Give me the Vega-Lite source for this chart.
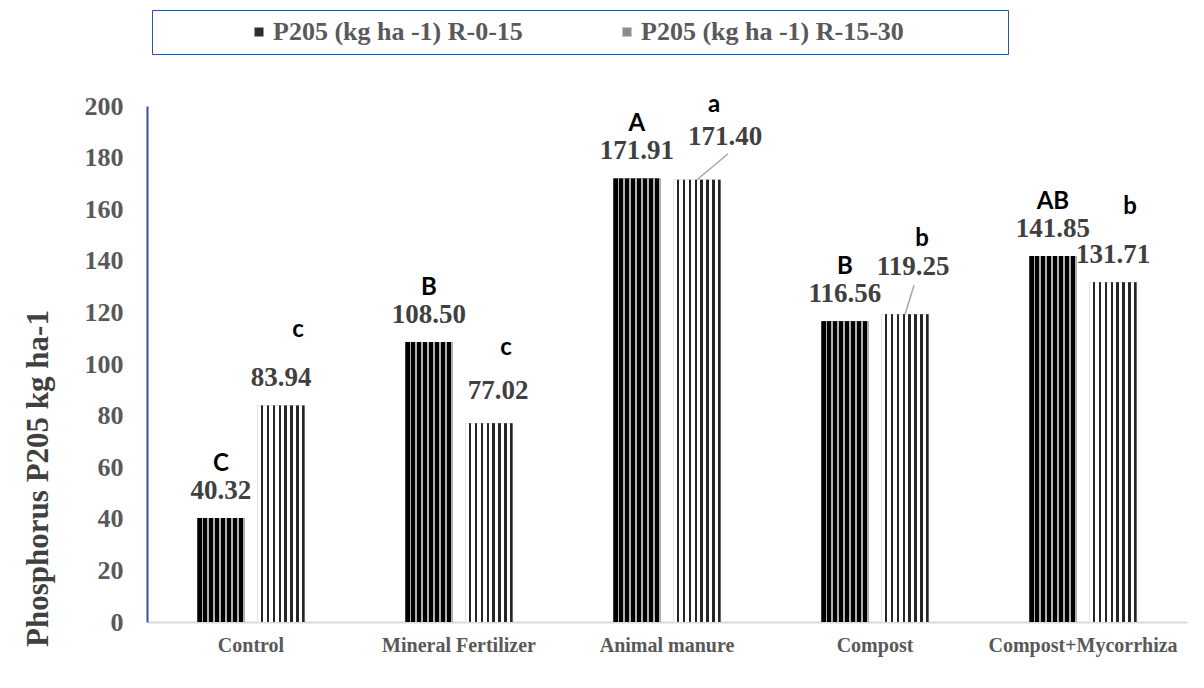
{
  "$schema": "https://vega.github.io/schema/vega-lite/v6.json",
  "width": 1040,
  "height": 516,
  "autosize": {"type": "none"},
  "padding": {"left": 147, "top": 106, "right": 17, "bottom": 66},
  "background": "white",
  "config": {"view": {"stroke": null}},
  "data": {
    "values": [
      {"treatment": "Control", "depth": "P205 (kg ha -1) R-0-15", "value": 40.32, "label": "40.32", "letter": "C"},
      {"treatment": "Control", "depth": "P205 (kg ha -1) R-15-30", "value": 83.94, "label": "83.94", "letter": "c"},
      {"treatment": "Mineral Fertilizer", "depth": "P205 (kg ha -1) R-0-15", "value": 108.50, "label": "108.50", "letter": "B"},
      {"treatment": "Mineral Fertilizer", "depth": "P205 (kg ha -1) R-15-30", "value": 77.02, "label": "77.02", "letter": "c"},
      {"treatment": "Animal manure", "depth": "P205 (kg ha -1) R-0-15", "value": 171.91, "label": "171.91", "letter": "A"},
      {"treatment": "Animal manure", "depth": "P205 (kg ha -1) R-15-30", "value": 171.40, "label": "171.40", "letter": "a"},
      {"treatment": "Compost", "depth": "P205 (kg ha -1) R-0-15", "value": 116.56, "label": "116.56", "letter": "B"},
      {"treatment": "Compost", "depth": "P205 (kg ha -1) R-15-30", "value": 119.25, "label": "119.25", "letter": "b"},
      {"treatment": "Compost+Mycorrhiza", "depth": "P205 (kg ha -1) R-0-15", "value": 141.85, "label": "141.85", "letter": "AB"},
      {"treatment": "Compost+Mycorrhiza", "depth": "P205 (kg ha -1) R-15-30", "value": 131.71, "label": "131.71", "letter": "b"}
    ]
  },
  "encoding": {
    "x": {
      "field": "treatment", "type": "nominal", "sort": null,
      "scale": {"paddingInner": 0.485, "paddingOuter": 0.2425},
      "axis": {
        "title": null, "labelAngle": 0, "ticks": false, "domainColor": "#d9d9d9", "domainWidth": 2,
        "labelFont": "Liberation Serif", "labelFontWeight": "bold", "labelFontSize": 20, "labelColor": "#595959",
        "labelPadding": 13, "labelLimit": 0
      }
    },
    "xOffset": {"field": "depth", "type": "nominal", "scale": {"paddingInner": 0.22, "paddingOuter": 0}},
    "y": {
      "field": "value", "type": "quantitative",
      "scale": {"domain": [0, 200], "nice": false},
      "axis": {
        "title": "Phosphorus P205 kg ha-1", "values": [0, 20, 40, 60, 80, 100, 120, 140, 160, 180, 200],
        "grid": false, "ticks": false, "domainColor": "#2f5597", "domainWidth": 2,
        "labelFont": "Liberation Serif", "labelFontWeight": "bold", "labelFontSize": 26, "labelColor": "#595959",
        "labelPadding": 24,
        "titleFont": "Liberation Serif", "titleFontWeight": "bold", "titleFontSize": 31, "titleColor": "#404040",
        "titleX": -109, "titleY": 372, "titleBaseline": "middle", "titleAlign": "center", "titleAngle": -90
      }
    }
  },
  "layer": [
    {
      "mark": {"type": "bar"},
      "encoding": {
        "color": {
          "field": "depth", "type": "nominal",
          "scale": {
            "domain": ["P205 (kg ha -1) R-0-15", "P205 (kg ha -1) R-15-30"],
            "range": ["#2e2e2e", "#8c8c8c"]
          },
          "legend": {
            "title": null, "orient": "none", "legendX": 5, "legendY": -96, "direction": "horizontal",
            "strokeColor": "#2f5597", "padding": 9,
            "symbolType": "square", "symbolSize": 81, "symbolStrokeWidth": 0, "symbolOffset": 85,
            "labelFont": "Liberation Serif", "labelFontWeight": "bold", "labelFontSize": 26, "labelColor": "#595959",
            "labelOffset": 1, "labelLimit": 0, "columnPadding": 6,
            "labelExpr": "datum.value == 'P205 (kg ha -1) R-15-30' ? datum.label + '\u2800\u2800\u2800\u2800\u2800' : datum.label"
          }
        }
      }
    },
    {
      "transform": [{"filter": "datum.depth == 'P205 (kg ha -1) R-0-15'"}],
      "mark": {"type": "bar", "fill": {"gradient": "linear", "x1": 0, "y1": 0, "x2": 1, "y2": 0, "stops": [
                {"offset": 0, "color": "#000000"}, {"offset": 0.0875, "color": "#000000"}, {"offset": 0.0875, "color": "#b0b0b0"}, {"offset": 0.125, "color": "#b0b0b0"},
                {"offset": 0.125, "color": "#000000"}, {"offset": 0.2125, "color": "#000000"}, {"offset": 0.2125, "color": "#b0b0b0"}, {"offset": 0.25, "color": "#b0b0b0"},
                {"offset": 0.25, "color": "#000000"}, {"offset": 0.3375, "color": "#000000"}, {"offset": 0.3375, "color": "#b0b0b0"}, {"offset": 0.375, "color": "#b0b0b0"},
                {"offset": 0.375, "color": "#000000"}, {"offset": 0.4625, "color": "#000000"}, {"offset": 0.4625, "color": "#b0b0b0"}, {"offset": 0.5, "color": "#b0b0b0"},
                {"offset": 0.5, "color": "#000000"}, {"offset": 0.5875, "color": "#000000"}, {"offset": 0.5875, "color": "#b0b0b0"}, {"offset": 0.625, "color": "#b0b0b0"},
                {"offset": 0.625, "color": "#000000"}, {"offset": 0.7125, "color": "#000000"}, {"offset": 0.7125, "color": "#b0b0b0"}, {"offset": 0.75, "color": "#b0b0b0"},
                {"offset": 0.75, "color": "#000000"}, {"offset": 0.8375, "color": "#000000"}, {"offset": 0.8375, "color": "#b0b0b0"}, {"offset": 0.875, "color": "#b0b0b0"},
                {"offset": 0.875, "color": "#000000"}, {"offset": 0.9625, "color": "#000000"}, {"offset": 0.9625, "color": "#b0b0b0"}, {"offset": 1, "color": "#b0b0b0"}
              ]}},
      "encoding": {}
    },
    {
      "transform": [{"filter": "datum.depth == 'P205 (kg ha -1) R-15-30'"}],
      "mark": {"type": "bar", "fill": {"gradient": "linear", "x1": 0, "y1": 0, "x2": 1, "y2": 0, "stops": [
                {"offset": 0, "color": "#ffffff"}, {"offset": 0.07, "color": "#ffffff"}, {"offset": 0.07, "color": "#262626"}, {"offset": 0.125, "color": "#262626"},
                {"offset": 0.125, "color": "#ffffff"}, {"offset": 0.195, "color": "#ffffff"}, {"offset": 0.195, "color": "#262626"}, {"offset": 0.25, "color": "#262626"},
                {"offset": 0.25, "color": "#ffffff"}, {"offset": 0.32, "color": "#ffffff"}, {"offset": 0.32, "color": "#262626"}, {"offset": 0.375, "color": "#262626"},
                {"offset": 0.375, "color": "#ffffff"}, {"offset": 0.445, "color": "#ffffff"}, {"offset": 0.445, "color": "#262626"}, {"offset": 0.5, "color": "#262626"},
                {"offset": 0.5, "color": "#ffffff"}, {"offset": 0.57, "color": "#ffffff"}, {"offset": 0.57, "color": "#262626"}, {"offset": 0.625, "color": "#262626"},
                {"offset": 0.625, "color": "#ffffff"}, {"offset": 0.695, "color": "#ffffff"}, {"offset": 0.695, "color": "#262626"}, {"offset": 0.75, "color": "#262626"},
                {"offset": 0.75, "color": "#ffffff"}, {"offset": 0.82, "color": "#ffffff"}, {"offset": 0.82, "color": "#262626"}, {"offset": 0.875, "color": "#262626"},
                {"offset": 0.875, "color": "#ffffff"}, {"offset": 0.945, "color": "#ffffff"}, {"offset": 0.945, "color": "#262626"}, {"offset": 1, "color": "#262626"}
              ]}},
      "encoding": {}
    },
    {
      "transform": [{"filter": "datum.label == '171.40'"}],
      "mark": {"type": "rule", "color": "#a6a6a6", "strokeWidth": 1.5, "y2Offset": -26, "x2Offset": 61},
      "encoding": {"x2": {"field": "treatment"}, "y2": {"field": "value"}}
    },
    {
      "transform": [{"filter": "datum.label == '119.25'"}],
      "mark": {"type": "rule", "color": "#a6a6a6", "strokeWidth": 1.5, "y2Offset": -29, "x2Offset": 39},
      "encoding": {"x2": {"field": "treatment"}, "y2": {"field": "value"}}
    },
    {
      "transform": [{"filter": "datum.label != '171.40' && datum.label != '119.25' && datum.label != '77.02'"}],
      "mark": {"type": "text", "dy": -27, "font": "Liberation Serif", "fontWeight": "bold", "fontSize": 27, "color": "#404040", "baseline": "middle"},
      "encoding": {"text": {"field": "label"}}
    },
    {
      "transform": [{"filter": "datum.label == '77.02'"}],
      "mark": {"type": "text", "dx": 9, "dy": -32, "font": "Liberation Serif", "fontWeight": "bold", "fontSize": 27, "color": "#404040", "baseline": "middle"},
      "encoding": {"text": {"field": "label"}}
    },
    {
      "transform": [{"filter": "datum.label == '171.40'"}],
      "mark": {"type": "text", "dx": 28, "dy": -43, "font": "Liberation Serif", "fontWeight": "bold", "fontSize": 27, "color": "#404040", "baseline": "middle"},
      "encoding": {"text": {"field": "label"}}
    },
    {
      "transform": [{"filter": "datum.label == '119.25'"}],
      "mark": {"type": "text", "dx": 8, "dy": -47, "font": "Liberation Serif", "fontWeight": "bold", "fontSize": 27, "color": "#404040", "baseline": "middle"},
      "encoding": {"text": {"field": "label"}}
    },
    {
      "transform": [{"filter": "datum.depth == 'P205 (kg ha -1) R-0-15'"}],
      "mark": {"type": "text", "dy": -54, "font": "Lato", "fontWeight": "bold", "fontSize": 24, "color": "#000000", "baseline": "middle"},
      "encoding": {"text": {"field": "letter"}}
    },
    {
      "transform": [{"filter": "datum.depth == 'P205 (kg ha -1) R-15-30'"}],
      "mark": {"type": "text", "dx": 17, "dy": -75, "font": "Lato", "fontWeight": "bold", "fontSize": 24, "color": "#000000", "baseline": "middle"},
      "encoding": {"text": {"field": "letter"}}
    }
  ]
}
